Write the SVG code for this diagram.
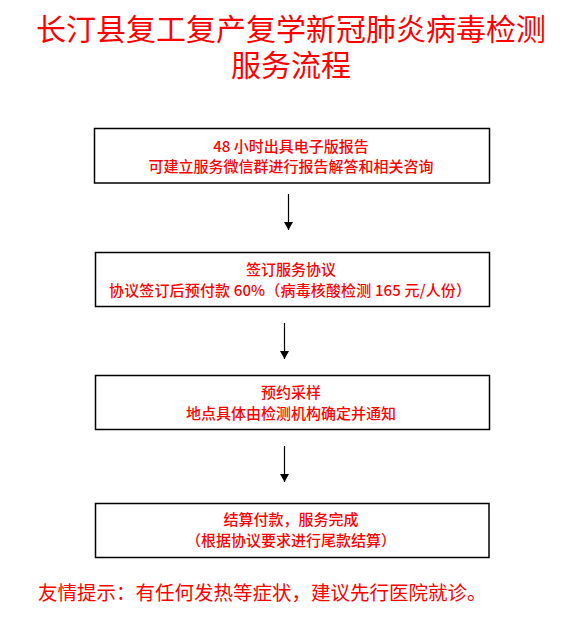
<svg xmlns="http://www.w3.org/2000/svg" width="577" height="623" viewBox="0 0 577 623">
  <defs>
    <style>
      .t { font-family: "Noto Sans CJK SC", "Noto Sans", sans-serif; fill: #FF0000; }
      .title { font-size: 30px; text-anchor: middle; }
      .bt { font-size: 15px; text-anchor: middle; font-weight: 500; }
      .box { fill: #FFFFFF; stroke: #000000; stroke-width: 1.5; }
      .conn { stroke: #000000; stroke-width: 1.2; fill: none; }
      .foot { font-size: 19.5px; }
    </style>
    <marker id="ad" viewBox="0 0 8 9" refX="8" refY="4.5" markerWidth="8" markerHeight="9" markerUnits="userSpaceOnUse" orient="auto">
      <path d="M0,0 L8,4.5 L0,9 Z" fill="#000000"/>
    </marker>
  </defs>
  <rect width="577" height="623" fill="#FFFFFF"/>
  <g id="title">
    <text class="t title"><tspan x="291" y="40">长汀县复工复产复学新冠肺炎病毒检测</tspan><tspan x="291" y="76">服务流程</tspan></text>
  </g>
  <g id="node1">
    <rect class="box" x="94.5" y="128.5" width="395" height="54.5"/>
    <text class="t bt" x="291" y="152">48 小时出具电子版报告</text>
    <text class="t bt" x="291" y="172">可建立服务微信群进行报告解答和相关咨询</text>
  </g>
  <g id="node2">
    <rect class="box" x="95.5" y="252.5" width="394" height="54"/>
    <text class="t bt" x="291" y="275">签订服务协议</text>
    <text class="t bt" x="290" y="296" textLength="362" lengthAdjust="spacing">协议签订后预付款 60%（病毒核酸检测 165 元/人份）</text>
  </g>
  <g id="node3">
    <rect class="box" x="95.5" y="375.5" width="394" height="54"/>
    <text class="t bt" x="291" y="398">预约采样</text>
    <text class="t bt" x="291" y="419">地点具体由检测机构确定并通知</text>
  </g>
  <g id="node4">
    <rect class="box" x="95.5" y="503.5" width="393.5" height="54"/>
    <text class="t bt" x="291" y="525">结算付款，服务完成</text>
    <text class="t bt" x="291" y="546">（根据协议要求进行尾款结算）</text>
  </g>
  <g id="connectors">
    <line class="conn" x1="288.5" y1="194" x2="288.5" y2="230" marker-end="url(#ad)"/>
    <line class="conn" x1="284.5" y1="323" x2="284.5" y2="359" marker-end="url(#ad)"/>
    <line class="conn" x1="284.5" y1="446" x2="284.5" y2="482" marker-end="url(#ad)"/>
  </g>
  <g id="footer">
    <text class="t foot" x="38" y="600">友情提示：有任何发热等症状，建议先行医院就诊。</text>
  </g>
</svg>
